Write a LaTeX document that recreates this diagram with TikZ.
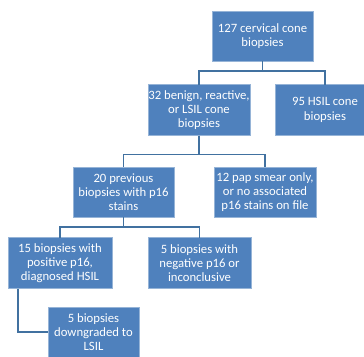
\documentclass[tikz,border=0pt]{standalone}
\usepackage{fontspec}
\setmainfont{Carlito}
\definecolor{boxfill}{RGB}{79,129,189}
\definecolor{boxline}{RGB}{150,180,215}
\definecolor{connc}{RGB}{65,113,160}
\begin{document}
\begin{tikzpicture}[x=1pt,y=-1pt,
  bx/.style={draw=boxline, line width=0.5pt, fill=boxfill, text=white, align=center,
    inner sep=0pt, outer sep=0pt, font=\fontsize{12.7}{14.2}\selectfont},
  conn/.style={draw=connc, line width=1.8pt}]
\useasboundingbox (0,0) rectangle (364,356);
\clip (0,0) rectangle (364,356);
\node[bx, minimum width=101pt, minimum height=50pt] (b1) at (262.5,36) {127 cervical cone\\biopsies};
\node[bx, minimum width=102pt, minimum height=51pt] (b2) at (199,110) {32 benign, reactive,\\or LSIL cone\\biopsies};
\node[bx, minimum width=100pt, minimum height=51pt] (b3) at (325,110) {95 HSIL cone\\biopsies};
\node[bx, minimum width=101pt, minimum height=50pt] (b4) at (123.5,192) {20 previous\\biopsies with p16\\stains};
\node[bx, minimum width=102pt, minimum height=50pt] (b5) at (265,192) {12 pap smear only,\\or no associated\\p16 stains on file};
\node[bx, minimum width=104pt, minimum height=51pt] (b6) at (60,263) {15 biopsies with\\positive p16,\\diagnosed HSIL};
\node[bx, minimum width=103pt, minimum height=51pt] (b7) at (199.5,263) {5 biopsies with\\negative p16 or\\inconclusive};
\node[bx, minimum width=91pt, minimum height=50pt] (b8) at (93.5,332) {5 biopsies\\downgraded to\\LSIL};
\draw[conn] (b1.south) -- ++(0,10) -| (b2.north);
\draw[conn] (b1.south) -- ++(0,10) -| (b3.north);
\draw[conn] (b2.south) -- ++(0,19) -| (b4.north);
\draw[conn] (b2.south) -- ++(0,19) -| (b5.north);
\draw[conn] (b4.south) -- ++(0,10) -| (b6.north);
\draw[conn] (b4.south) -- ++(0,10) -| (b7.north);
\draw[conn] ([xshift=10pt]b6.south west) |- (b8.west);
\end{tikzpicture}
\end{document}
